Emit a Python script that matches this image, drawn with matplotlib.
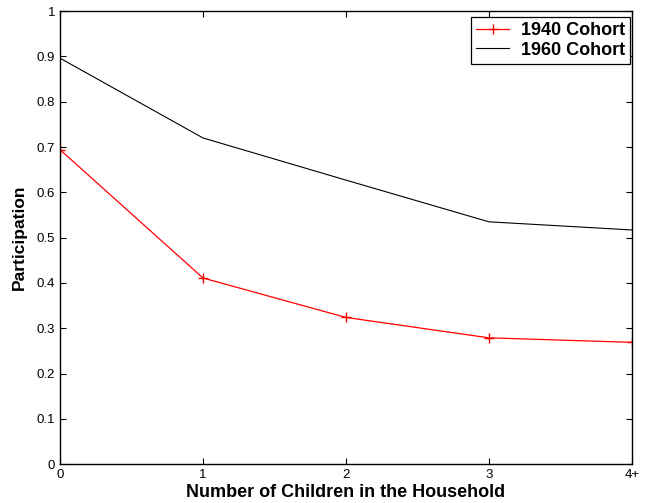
import numpy as np
import matplotlib.pyplot as plt

plt.rcParams['font.family'] = ['Liberation Sans', 'DejaVu Sans']

# data
children = [0, 1, 2, 3, 4]
child_labels = ["0", "1", "2", "3", "4+"]
cohort_1940 = [0.694, 0.411, 0.324, 0.279, 0.269]
cohort_1960 = [0.896, 0.720, 0.627, 0.535, 0.517]
yticks = [0, 0.1, 0.2, 0.3, 0.4, 0.5, 0.6, 0.7, 0.8, 0.9, 1]
ytick_labels = ["0", "0.1", "0.2", "0.3", "0.4", "0.5", "0.6", "0.7", "0.8", "0.9", "1"]

fig = plt.figure(figsize=(6.46, 5.03), dpi=100)
ax = fig.add_axes([0.093, 0.077, 0.885, 0.901])

ax.plot(children, cohort_1940, color="red", marker="+", markersize=7,
        linewidth=0.9, label="1940 Cohort")
ax.plot(children, cohort_1960, color="black", linewidth=0.8, label="1960 Cohort")

ax.set_xlim(0, 4)
ax.set_ylim(0, 1)
ax.set_xticks(children)
ax.set_xticklabels(child_labels)
ax.set_yticks(yticks)
ax.set_yticklabels(ytick_labels)
ax.tick_params(direction="in", top=True, right=True, labelsize=9.5, length=4, width=0.8)
for s in ax.spines.values():
    s.set_linewidth(1.0)

ax.set_xlabel("Number of Children in the Household", fontsize=13, fontweight="bold", labelpad=2)
ax.set_ylabel("Participation", fontsize=12.5, fontweight="bold", labelpad=7)

leg = ax.legend(loc="upper right", bbox_to_anchor=(0.997, 0.987), borderaxespad=0,
                fancybox=False, framealpha=1, edgecolor="black",
                prop={"weight": "bold", "size": 13},
                handlelength=1.8, borderpad=0.3, labelspacing=0.12, handletextpad=0.65)
leg.get_frame().set_linewidth(0.9)

fig.savefig("out.png", dpi=100)
